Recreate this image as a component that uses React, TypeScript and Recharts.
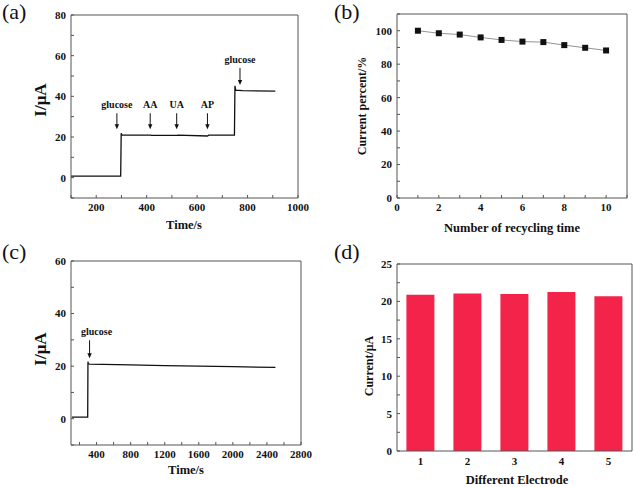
import React from 'react'
import { Bar, BarChart, Line, LineChart, ReferenceDot, XAxis, YAxis } from 'recharts'

// (a) step response with interferents
const timeA = [100, 297, 299, 302, 330, 414, 420, 519, 525, 641, 646, 748, 750, 753, 780, 910]
const currentA = [0.8, 0.8, 21.9, 21.0, 20.9, 20.9, 20.8, 20.8, 20.9, 20.5, 20.9, 20.9, 45.2, 43.0, 42.8, 42.6]
const eventLabelsA = ['glucose', 'AA', 'UA', 'AP', 'glucose']
const eventTimesA = [282, 414, 519, 641, 770]
const eventTipsA = [23.8, 23.8, 23.8, 23.8, 45.6]
const xMajorA = [200, 400, 600, 800, 1000]
const xMinorA = [100, 300, 500, 700, 900]
const yMajorA = [0, 20, 40, 60, 80]
const yMinorA = [-10, 10, 30, 50, 70]

// (b) recycling stability
const cycles = [1, 2, 3, 4, 5, 6, 7, 8, 9, 10]
const percent = [100, 98.5, 97.7, 96.0, 94.5, 93.5, 93.2, 91.4, 89.8, 88.2]
const xMajorB = [0, 2, 4, 6, 8, 10]
const xMinorB = [1, 3, 5, 7, 9, 11]
const yMajorB = [0, 20, 40, 60, 80, 100]
const yMinorB = [10, 30, 50, 70, 90, 110]

// (c) long-term response
const timeC = [110, 296, 299, 303, 320, 800, 1200, 1600, 2000, 2500]
const currentC = [0.6, 0.6, 21.7, 20.9, 20.8, 20.5, 20.2, 20.0, 19.8, 19.5]
const eventTimeC = 318
const eventTipC = 23
const xMajorC = [400, 800, 1200, 1600, 2000, 2400, 2800]
const xMinorC = [200, 600, 1000, 1400, 1800, 2200, 2600]
const yMajorC = [0, 20, 40, 60]
const yMinorC = [-10, 10, 30, 50]

// (d) electrode reproducibility
const electrodes = ['1', '2', '3', '4', '5']
const electrodeCurrent = [20.9, 21.05, 21.0, 21.25, 20.7]
const yMajorD = [0, 5, 10, 15, 20, 25]
const yMinorD = [2.5, 7.5, 12.5, 17.5, 22.5]

const dataA = timeA.map((t, i) => ({ t, i: currentA[i] }))
const dataB = cycles.map((n, i) => ({ n, p: percent[i] }))
const dataC = timeC.map((t, i) => ({ t, i: currentC[i] }))
const dataD = electrodes.map((e, i) => ({ e, c: electrodeCurrent[i] }))

const SERIF = '"Liberation Serif", "DejaVu Serif", serif'
const AXIS = '#555'
const axisLine = { stroke: AXIS, strokeWidth: 1 }
const tickLine = { stroke: AXIS }
const tickFont = {
  fontSize: 11,
  fontWeight: 'bold',
  fill: '#111',
  fontFamily: SERIF,
  style: { fontFamily: SERIF, fontWeight: 'bold' },
}

const fmt = (majors: number[]) => (v: number) => (majors.includes(v) ? String(v) : '')
const merge = (a: number[], b: number[]) => [...a, ...b].sort((x, y) => x - y)

function arrow(label: string, len: number, dx = 0) {
  return (props: any) => {
    const { cx, cy } = props
    return (
      <g>
        <line x1={cx} y1={cy - len} x2={cx} y2={cy - 4} stroke="#111" strokeWidth={1} />
        <path d={`M${cx - 2.2},${cy - 5} L${cx + 2.2},${cy - 5} L${cx},${cy} Z`} fill="#111" />
        <text
          x={cx + dx}
          y={cy - len - 5}
          textAnchor="middle"
          fontSize={10}
          fontWeight="bold"
          style={{ fontFamily: SERIF }}
          fill="#111"
        >
          {label}
        </text>
      </g>
    )
  }
}

function square(props: any) {
  const { cx, cy } = props
  return <rect key={`sq-${cx}`} x={cx - 3} y={cy - 3} width={6} height={6} fill="#111" />
}

const abs = (left: number, top: number): React.CSSProperties => ({ position: 'absolute', left, top })

function Title({ x, y, text, size = 12, vertical = false }: { x: number; y: number; text: string; size?: number; vertical?: boolean }) {
  return (
    <div
      style={{
        position: 'absolute',
        left: x,
        top: y,
        transform: `translate(-50%, -50%)${vertical ? ' rotate(-90deg)' : ''}`,
        fontSize: size,
        fontWeight: 'bold',
        whiteSpace: 'nowrap',
        color: '#111',
        lineHeight: 1,
      }}
    >
      {text}
    </div>
  )
}

function Letter({ x, y, text }: { x: number; y: number; text: string }) {
  return <div style={{ position: 'absolute', left: x, top: y, fontSize: 22, lineHeight: 1, color: '#111' }}>{text}</div>
}

export default function App() {
  return (
    <div
      style={{
        position: 'absolute',
        left: 0,
        top: 0,
        width: 634,
        height: 487,
        background: '#fff',
        fontFamily: SERIF,
        overflow: 'hidden',
      }}
    >
      {/* (a) */}
      <div style={abs(0, 0)}>
        <LineChart width={317} height={240} data={dataA} margin={{ top: 14, right: 18, bottom: 41, left: 70 }}>
          <XAxis
            dataKey="t"
            type="number"
            domain={[100, 1000]}
            ticks={merge(xMinorA, xMajorA)}
            tickFormatter={fmt(xMajorA)}
            interval={0}
            height={1}
            axisLine={axisLine}
            tickLine={tickLine}
            tickSize={-3}
            tickMargin={8}
            tick={tickFont}
          />
          <YAxis
            type="number"
            domain={[-10, 80]}
            ticks={merge(yMinorA, yMajorA)}
            tickFormatter={fmt(yMajorA)}
            interval={0}
            width={1}
            axisLine={axisLine}
            tickLine={tickLine}
            tickSize={-3}
            tickMargin={8}
            tick={tickFont}
          />
          <XAxis xAxisId="top" orientation="top" type="number" domain={[0, 1]} height={1} tick={false} tickLine={false} axisLine={axisLine} />
          <YAxis yAxisId="right" orientation="right" type="number" domain={[0, 1]} width={1} tick={false} tickLine={false} axisLine={axisLine} />
          <Line dataKey="i" type="linear" stroke="#111" strokeWidth={1.3} dot={false} isAnimationActive={false} />
          {eventLabelsA.map((label, k) => (
            <ReferenceDot key={k} x={eventTimesA[k]} y={eventTipsA[k]} r={0} shape={arrow(label, k === 4 ? 17 : 16)} />
          ))}
        </LineChart>
      </div>

      {/* (b) */}
      <div style={abs(317, 0)}>
        <LineChart width={317} height={240} data={dataB} margin={{ top: 13, right: 6, bottom: 41, left: 79 }}>
          <XAxis
            dataKey="n"
            type="number"
            domain={[0, 11]}
            ticks={merge(xMinorB, xMajorB)}
            tickFormatter={fmt(xMajorB)}
            interval={0}
            height={1}
            axisLine={axisLine}
            tickLine={tickLine}
            tickSize={-3}
            tickMargin={8}
            tick={tickFont}
          />
          <YAxis
            type="number"
            domain={[0, 110]}
            ticks={merge(yMinorB, yMajorB)}
            tickFormatter={fmt(yMajorB)}
            interval={0}
            width={1}
            axisLine={axisLine}
            tickLine={tickLine}
            tickSize={-3}
            tickMargin={8}
            tick={tickFont}
          />
          <XAxis xAxisId="top" orientation="top" type="number" domain={[0, 1]} height={1} tick={false} tickLine={false} axisLine={axisLine} />
          <YAxis yAxisId="right" orientation="right" type="number" domain={[0, 1]} width={1} tick={false} tickLine={false} axisLine={axisLine} />
          <Line dataKey="p" type="linear" stroke="#888" strokeWidth={0.9} dot={square} isAnimationActive={false} />
        </LineChart>
      </div>

      {/* (c) */}
      <div style={abs(0, 240)}>
        <LineChart width={317} height={247} data={dataC} margin={{ top: 20, right: 15, bottom: 41, left: 70 }}>
          <XAxis
            dataKey="t"
            type="number"
            domain={[100, 2800]}
            ticks={merge(xMinorC, xMajorC)}
            tickFormatter={fmt(xMajorC)}
            interval={0}
            height={1}
            axisLine={axisLine}
            tickLine={tickLine}
            tickSize={-3}
            tickMargin={8}
            tick={tickFont}
          />
          <YAxis
            type="number"
            domain={[-10, 60]}
            ticks={merge(yMinorC, yMajorC)}
            tickFormatter={fmt(yMajorC)}
            interval={0}
            width={1}
            axisLine={axisLine}
            tickLine={tickLine}
            tickSize={-3}
            tickMargin={8}
            tick={tickFont}
          />
          <XAxis xAxisId="top" orientation="top" type="number" domain={[0, 1]} height={1} tick={false} tickLine={false} axisLine={axisLine} />
          <YAxis yAxisId="right" orientation="right" type="number" domain={[0, 1]} width={1} tick={false} tickLine={false} axisLine={axisLine} />
          <Line dataKey="i" type="linear" stroke="#111" strokeWidth={1.3} dot={false} isAnimationActive={false} />
          <ReferenceDot x={eventTimeC} y={eventTipC} r={0} shape={arrow('glucose', 18, 7)} />
        </LineChart>
      </div>

      {/* (d) */}
      <div style={abs(317, 240)}>
        <BarChart width={317} height={247} data={dataD} barCategoryGap="20%" margin={{ top: 23, right: 1, bottom: 35, left: 79 }}>
          <XAxis dataKey="e" height={1} axisLine={axisLine} tickLine={false} tickSize={0} tickMargin={6} tick={tickFont} />
          <YAxis
            type="number"
            domain={[0, 25]}
            ticks={merge(yMinorD, yMajorD)}
            tickFormatter={fmt(yMajorD)}
            interval={0}
            width={1}
            axisLine={axisLine}
            tickLine={tickLine}
            tickSize={-3}
            tickMargin={8}
            tick={tickFont}
          />
          <XAxis xAxisId="top" orientation="top" type="number" domain={[0, 1]} height={1} tick={false} tickLine={false} axisLine={axisLine} />
          <YAxis yAxisId="right" orientation="right" type="number" domain={[0, 1]} width={1} tick={false} tickLine={false} axisLine={axisLine} />
          <Bar dataKey="c" fill="#f4234a" isAnimationActive={false} />
        </BarChart>
      </div>

      <Letter x={2} y={1} text="(a)" />
      <Letter x={334} y={1} text="(b)" />
      <Letter x={2} y={241} text="(c)" />
      <Letter x={334} y={241} text="(d)" />

      <Title x={184} y={225} text="Time/s" size={12.5} />
      <Title x={40} y={100} text="I/μA" size={17} vertical />
      <Title x={512} y={228} text="Number of recycling time" size={12.5} />
      <Title x={362} y={106} text="Current percent/%" size={12} vertical />
      <Title x={186} y={470} text="Time/s" size={12.5} />
      <Title x={40} y={349} text="I/μA" size={17} vertical />
      <Title x={517} y={480} text="Different Electrode" size={12.5} />
      <Title x={369} y={366} text="Current/μA" size={12} vertical />
    </div>
  )
}
